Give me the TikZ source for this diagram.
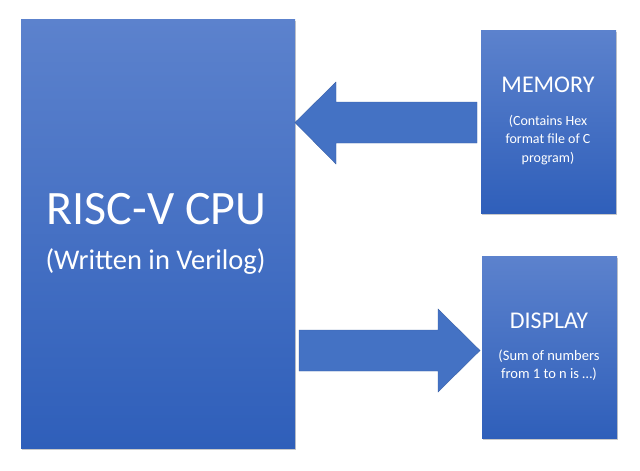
\documentclass[tikz,border=0pt]{standalone}
\usepackage{fontspec}
\setmainfont{Carlito}
\usetikzlibrary{shadows}
\definecolor{boxtop}{RGB}{92,130,205}
\definecolor{boxbot}{RGB}{47,95,186}
\definecolor{arrowblue}{RGB}{68,114,196}
\tikzset{
  blockbox/.style={draw=none, top color=boxtop, bottom color=boxbot, shading angle=0,
    drop shadow={shadow xshift=1pt, shadow yshift=-1.5pt, opacity=0.35, fill=black!60}},
  blockarrow/.style={fill=arrowblue, draw=arrowblue!85!black, line width=0.4pt},
  lbl/.style={text=white, anchor=base, inner sep=0pt},
}
\begin{document}
\begin{tikzpicture}[x=1pt, y=-1pt]
\useasboundingbox[fill=white] (0,0) rectangle (640,471);
% boxes
\path[blockbox] (21,19) rectangle (295,448);
\node[inner sep=0pt, minimum width=274pt, minimum height=429pt] (cpu) at (158,233.5) {};
\path[blockbox] (481,30) rectangle (616,213);
\node[inner sep=0pt, minimum width=135pt, minimum height=183pt] (mem) at (548.5,121.5) {};
\path[blockbox] (482,256) rectangle (617,438);
\node[inner sep=0pt, minimum width=135pt, minimum height=182pt] (disp) at (549.5,347) {};
% texts
\node[lbl, font=\fontsize{48}{54}\selectfont] (t1) at (156.5,224) {RISC-V CPU};
\node[lbl, font=\fontsize{28.5}{32}\selectfont] (t2) at (155.5,269.5) {(Written in Verilog)};
\node[lbl, font=\fontsize{24}{28}\selectfont] (m1) at (548,92) {MEMORY};
\node[lbl, font=\fontsize{14}{18}\selectfont] (m2) at (548,125) {(Contains Hex};
\node[lbl, font=\fontsize{14}{18}\selectfont] (m3) at (548,143.5) {format file of C};
\node[lbl, font=\fontsize{14}{18}\selectfont] (m4) at (548,162) {program)};
\node[lbl, font=\fontsize{24}{28}\selectfont] (d1) at (549,328) {DISPLAY};
\node[lbl, font=\fontsize{14.5}{18}\selectfont] (d2) at (549,360) {(Sum of numbers};
\node[lbl, font=\fontsize{14.5}{18}\selectfont] (d3) at (549,378) {from 1 to n is \ldots)};
% block arrows
\draw[blockarrow] (477,102) -- (336,102) -- (336,82) -- (295,122.5) -- (336,164) -- (336,143) -- (477,143) -- cycle;
\draw[blockarrow] (299,330) -- (438,330) -- (438,309) -- (480,350.5) -- (438,392) -- (438,371) -- (299,371) -- cycle;
\end{tikzpicture}
\end{document}
